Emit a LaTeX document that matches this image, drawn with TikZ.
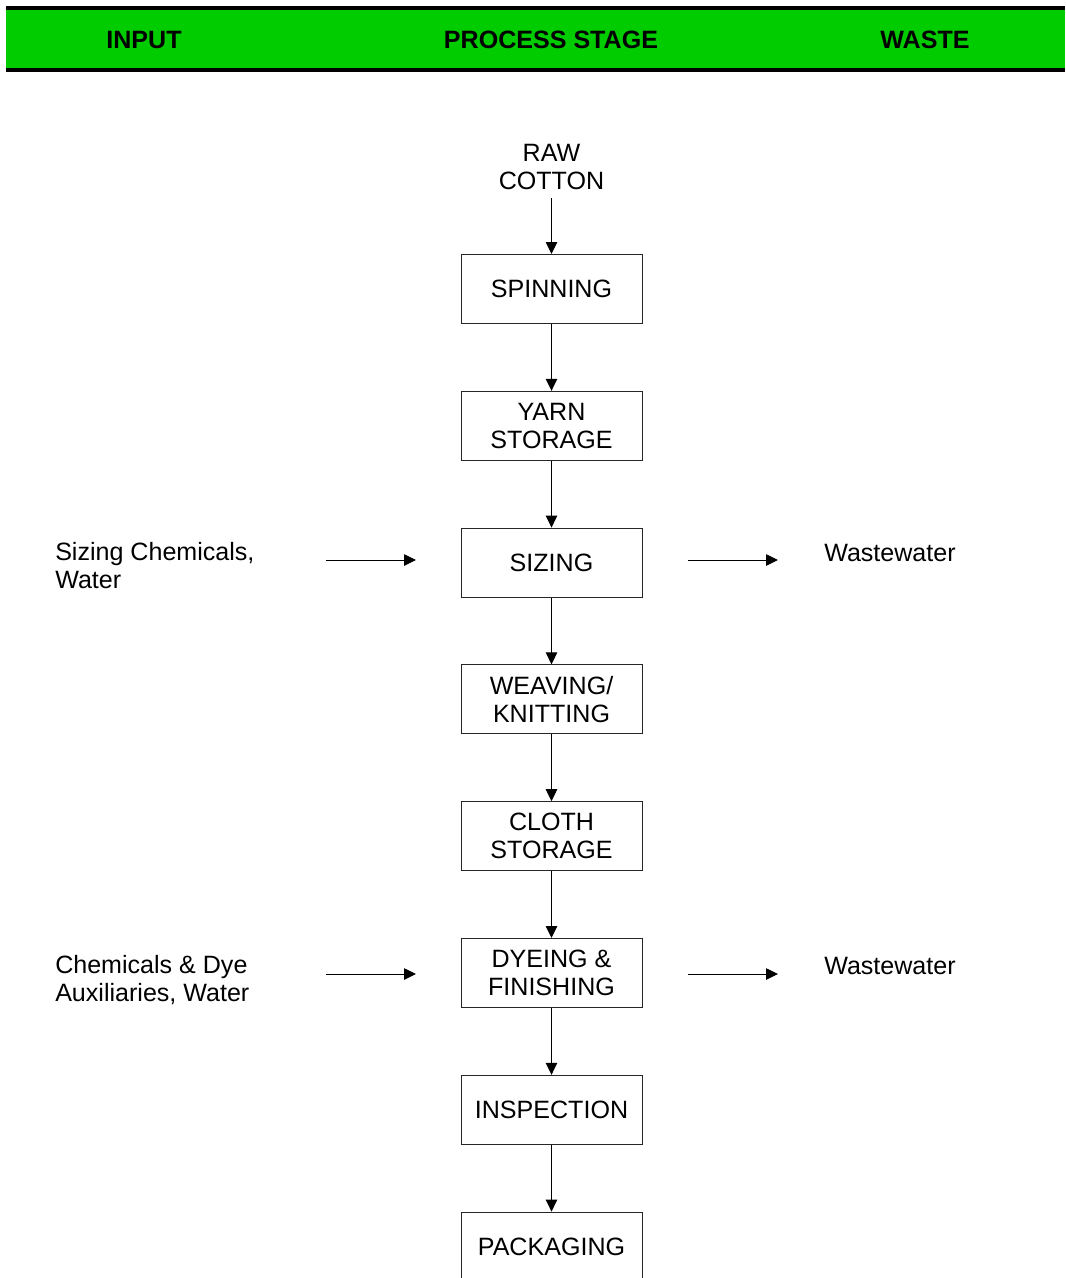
\documentclass[tikz,border=0pt]{standalone}
\usepackage{fontspec}
\setmainfont{Liberation Sans}
\usetikzlibrary{arrows.meta,positioning}
\definecolor{hdrgreen}{RGB}{0,204,0}

\begin{document}
\begin{tikzpicture}[
    x=0.75pt, y=-0.75pt,
    node distance=50.1pt,
    font=\fontsize{18.8}{21}\selectfont,
    stage/.style={draw=black!85, line width=0.75pt, rectangle, minimum width=135.75pt, minimum height=51.75pt, inner sep=0pt, align=center},
    hdr/.style={font=\fontsize{18.8}{21}\selectfont\bfseries},
    side/.style={align=left, anchor=west, inner sep=0pt},
    arr/.style={-{Triangle[length=9pt,width=8.6pt]}, line width=0.75pt}
]
    \useasboundingbox (0,0) rectangle (1065,1278);

    % header band
    \fill[hdrgreen] (6,8) rectangle (1065,70);
    \draw[line width=3pt] (6,8) -- (1065,8);
    \draw[line width=3pt] (6,70) -- (1065,70);
    \node[hdr] (hin) at (144,40) {INPUT};
    \node[hdr] (hproc) at (551,40) {PROCESS STAGE};
    \node[hdr] (hwaste) at (925,40) {WASTE};

    % process chain
    \node[align=center, inner sep=1pt] (raw) at (551.5,167) {RAW\\COTTON};
    \node[stage] (spin) at (551.5,289) {SPINNING};
    \node[stage, below=of spin] (yarn) {YARN\\STORAGE};
    \node[stage, below=of yarn] (sizing) {SIZING};
    \node[stage, below=of sizing] (weave) {WEAVING/\\KNITTING};
    \node[stage, below=of weave] (cloth) {CLOTH\\STORAGE};
    \node[stage, below=of cloth] (dye) {DYEING \&\\FINISHING};
    \node[stage, below=of dye] (insp) {INSPECTION};
    \node[stage, below=of insp] (pack) {PACKAGING};

    \draw[arr, shorten <=5pt] (raw) -- (spin);
    \draw[arr] (spin) -- (yarn);
    \draw[arr] (yarn) -- (sizing);
    \draw[arr] (sizing) -- (weave);
    \draw[arr] (weave) -- (cloth);
    \draw[arr] (cloth) -- (dye);
    \draw[arr] (dye) -- (insp);
    \draw[arr] (insp) -- (pack);

    % inputs and wastes
    \node[side] (sizin) at (55,566) {Sizing Chemicals,\\Water};
    \node[side] (sizout) at (824,553) {Wastewater};
    \node[side] (dyein) at (55,980) {Chemicals \& Dye\\Auxiliaries, Water};
    \node[side] (dyeout) at (824,966) {Wastewater};

    \coordinate (sizinA) at (326,560);
    \coordinate (sizinB) at (416,560);
    \coordinate (sizoutA) at (688,560);
    \coordinate (sizoutB) at (778,560);
    \coordinate (dyeinA) at (326,974);
    \coordinate (dyeinB) at (416,974);
    \coordinate (dyeoutA) at (688,974);
    \coordinate (dyeoutB) at (778,974);

    \draw[arr] (sizinA) -- (sizinB);
    \draw[arr] (sizoutA) -- (sizoutB);
    \draw[arr] (dyeinA) -- (dyeinB);
    \draw[arr] (dyeoutA) -- (dyeoutB);
\end{tikzpicture}
\end{document}
